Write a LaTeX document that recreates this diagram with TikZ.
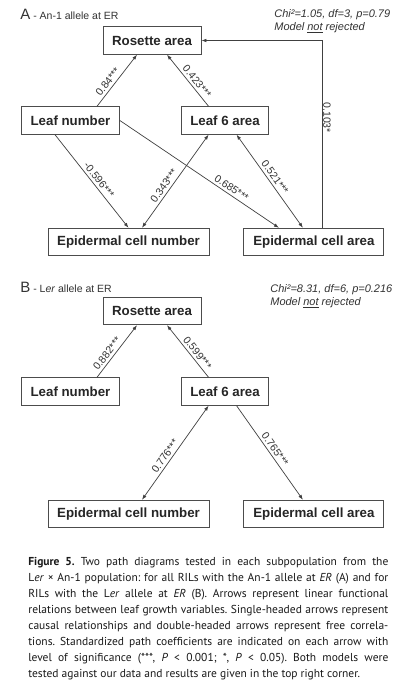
\documentclass[tikz,border=0pt]{standalone}
\usepackage{fontspec}
\setmainfont{Liberation Sans}
\newfontfamily\captionfont{PT Sans}
\usepackage{tikz}
\usetikzlibrary{arrows.meta, positioning}

\begin{document}
\begin{tikzpicture}[
    x=1pt, y=-1pt,
    ->, >={Latex[length=5pt, width=3.6pt]}, line width=0.7pt, draw=black!75,
    var/.style={rectangle, draw=black!70, line width=0.9pt, minimum height=27.5pt, inner xsep=9pt, font=\fontsize{13.3}{15}\selectfont\bfseries, text=black!85},
    coef/.style={sloped, above=1.5pt, inner sep=1pt, font=\fontsize{10.5}{12}\selectfont, text=black!80},
    coefv/.style={rotate=-90, above=1.5pt, inner sep=1pt, font=\fontsize{10.5}{12}\selectfont, text=black!80},
    title/.style={anchor=base west, inner sep=0pt, font=\fontsize{10.5}{12}\selectfont, text=black!80},
    stats/.style={anchor=west, align=left, inner sep=0pt, font=\fontsize{11}{13}\selectfont\itshape, text=black!80}
]
\fill[white] (0,0) rectangle (413,687);
\useasboundingbox (0,0) rectangle (413,687);

% panel A
\node[title] (TitleA) at (20,20) {{\fontsize{15}{15}\selectfont A} - An-1 allele at ER};
\node[stats] (StatsA) at (274,21) {Chi²=1.05, df=3, p=0.79\\Model \underline{not} rejected};

\node[var, minimum width=98pt] (RosA) at (152,40.5) {Rosette area};
\node[var, minimum width=97pt] (LeafNumA) at (70.5,120.5) {Leaf number};
\node[var, minimum width=87pt, right=61pt of LeafNumA] (Leaf6A) {Leaf 6 area};
\node[var, minimum width=161pt] (EpidNumA) at (128.5,242) {Epidermal cell number};
\node[var, minimum width=140pt, right=34pt of EpidNumA] (EpidAreaA) {Epidermal cell area};

\draw ([xshift=26.5pt]LeafNumA.north) -- node[coef, pos=0.4] {0.84***} ([xshift=-15pt]RosA.south);
\draw ([xshift=-16.5pt]Leaf6A.north) -- node[coef, pos=0.4] {0.423***} ([xshift=15pt]RosA.south);
\draw ([xshift=-15.5pt]LeafNumA.south) -- node[coef, pos=0.53] {-0.596***} (EpidNumA.north);
\draw (LeafNumA.east) -- node[coef, pos=0.68] {0.685***} ([xshift=-35pt]EpidAreaA.north);
\draw[<->] ([xshift=-16.5pt]Leaf6A.south) -- node[coef, pos=0.59] {0.343***} ([xshift=13.5pt]EpidNumA.north);
\draw[<->] ([xshift=11.5pt]Leaf6A.south) -- node[coef, pos=0.5] {0.521***} ([xshift=-11pt]EpidAreaA.north);
\draw ([xshift=8pt]EpidAreaA.north) |- node[coefv, pos=0.29] {0.103*} (RosA.east);

% panel B
\node[title] (TitleB) at (20,292) {{\fontsize{15}{15}\selectfont B} - L\textit{er} allele at ER};
\node[stats] (StatsB) at (270,296.5) {Chi²=8.31, df=6, p=0.216\\Model \underline{not} rejected};

\node[var, minimum width=98pt] (RosB) at (152,311) {Rosette area};
\node[var, minimum width=97pt] (LeafNumB) at (70.5,391.5) {Leaf number};
\node[var, minimum width=87pt, right=61pt of LeafNumB] (Leaf6B) {Leaf 6 area};
\node[var, minimum width=161pt] (EpidNumB) at (128.5,514) {Epidermal cell number};
\node[var, minimum width=140pt, right=34pt of EpidNumB] (EpidAreaB) {Epidermal cell area};

\draw ([xshift=26.5pt]LeafNumB.north) -- node[coef, pos=0.38] {0.882***} ([xshift=-15pt]RosB.south);
\draw ([xshift=-16.5pt]Leaf6B.north) -- node[coef, pos=0.39] {0.599***} ([xshift=15pt]RosB.south);
\draw[<->] ([xshift=-16.5pt]Leaf6B.south) -- node[coef, pos=0.575] {0.776***} ([xshift=13.5pt]EpidNumB.north);
\draw ([xshift=11.5pt]Leaf6B.south) -- node[coef, pos=0.5] {0.765***} ([xshift=-11pt]EpidAreaB.north);

% caption
\node[anchor=north west, inner sep=0pt, text width=360pt, align=justify, text=black!90,
      font=\captionfont\fontsize{11.5}{16}\selectfont\frenchspacing] (Caption) at (28,557) {%
\textbf{Figure 5.} Two path diagrams tested in each subpopulation from the\linebreak
L\textit{er} × An-1 population: for all RILs with the An-1 allele at \textit{ER} (A) and for\linebreak
RILs with the L\textit{er} allele at \textit{ER} (B). Arrows represent linear functional\linebreak
relations between leaf growth variables. Single-headed arrows represent\linebreak
causal relationships and double-headed arrows represent free correla-\linebreak
tions. Standardized path coefficients are indicated on each arrow with\linebreak
level of significance (***, \textit{P} < 0.001; *, \textit{P} < 0.05). Both models were\linebreak
tested against our data and results are given in the top right corner.};

\end{tikzpicture}
\end{document}
